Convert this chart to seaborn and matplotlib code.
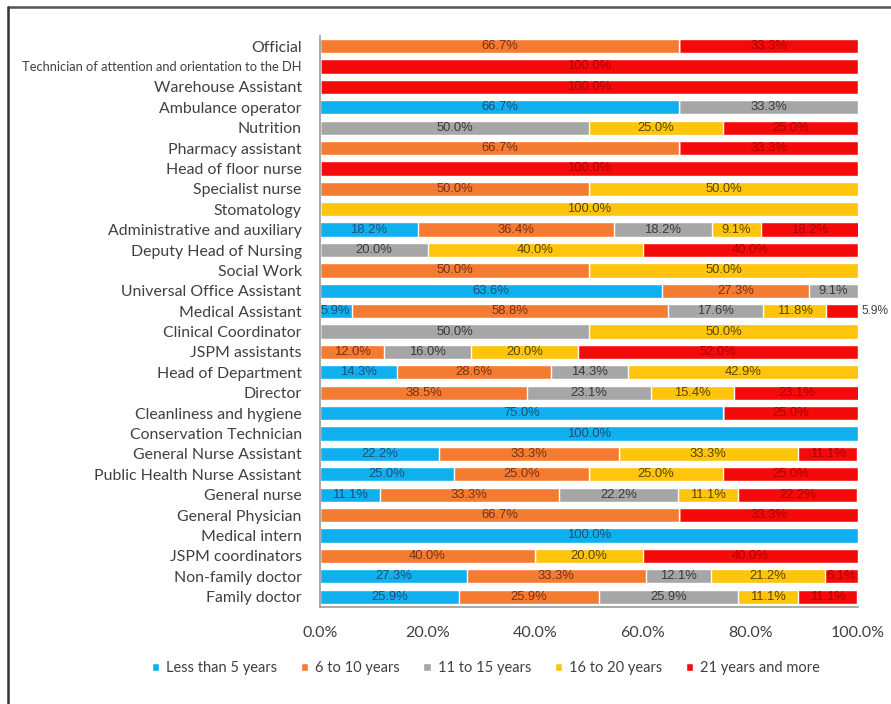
import matplotlib.pyplot as plt
import seaborn as sns
import pandas as pd
import numpy as np
from matplotlib.lines import Line2D

# Job categories, top to bottom as drawn
categories = [
    'Official', 'Technician of attention and orientation to the DH', 'Warehouse Assistant',
    'Ambulance operator', 'Nutrition', 'Pharmacy assistant', 'Head of floor nurse',
    'Specialist nurse', 'Stomatology', 'Administrative and auxiliary',
    'Deputy Head of Nursing', 'Social Work', 'Universal Office Assistant',
    'Medical Assistant', 'Clinical Coordinator', 'JSPM assistants', 'Head of Department',
    'Director', 'Cleanliness and hygiene', 'Conservation Technician',
    'General Nurse Assistant', 'Public Health Nurse Assistant', 'General nurse',
    'General Physician', 'Medical intern', 'JSPM coordinators', 'Non-family doctor',
    'Family doctor',
]

# Share of staff (%) by years of service
less_5 = [0, 0, 0, 66.7, 0, 0, 0, 0, 0, 18.2, 0, 0, 63.6, 5.9, 0, 0, 14.3, 0, 75.0, 100.0,
          22.2, 25.0, 11.1, 0, 100.0, 0, 27.3, 25.9]
y6_10 = [66.7, 0, 0, 0, 0, 66.7, 0, 50.0, 0, 36.4, 0, 50.0, 27.3, 58.8, 0, 12.0, 28.6, 38.5,
         0, 0, 33.3, 25.0, 33.3, 66.7, 0, 40.0, 33.3, 25.9]
y11_15 = [0, 0, 0, 33.3, 50.0, 0, 0, 0, 0, 18.2, 20.0, 0, 9.1, 17.6, 50.0, 16.0, 14.3, 23.1,
          0, 0, 0, 0, 22.2, 0, 0, 0, 12.1, 25.9]
y16_20 = [0, 0, 0, 0, 25.0, 0, 0, 50.0, 100.0, 9.1, 40.0, 50.0, 0, 11.8, 50.0, 20.0, 42.9, 15.4,
          0, 0, 33.3, 25.0, 11.1, 0, 0, 20.0, 21.2, 11.1]
y21_more = [33.3, 100.0, 100.0, 0, 25.0, 33.3, 100.0, 0, 0, 18.2, 40.0, 0, 0, 5.9, 0, 52.0, 0,
            23.1, 25.0, 0, 11.1, 25.0, 22.2, 33.3, 0, 40.0, 6.1, 11.1]

series_names = ['Less than 5 years', '6 to 10 years', '11 to 15 years',
                '16 to 20 years', '21 years and more']
colors = ['#10B0EE', '#F47B32', '#A6A6A6', '#FFC40C', '#F50A0A']
text_colors = ['#1D4F7A', '#7A3210', '#3A3A3A', '#5A4600', '#B00000']

xticks = [0, 20, 40, 60, 80, 100]

df = pd.DataFrame({'category': categories, series_names[0]: less_5, series_names[1]: y6_10,
                   series_names[2]: y11_15, series_names[3]: y16_20, series_names[4]: y21_more})

sns.set_style('white')
plt.rcParams['font.family'] = ['Lato', 'DejaVu Sans']

fig = plt.figure(figsize=(8.91, 7.04), dpi=100)
ax = fig.add_axes([0.359, 0.138, 0.604, 0.811])

# stacked bars: draw cumulative totals from the longest down
cum = df[series_names].cumsum(axis=1)
for k in reversed(range(len(series_names))):
    sns.barplot(x=cum[series_names[k]], y=df['category'], orient='h', color=colors[k],
                saturation=1, width=0.7, ax=ax, label=series_names[k])

# value labels
for i, row in df.iterrows():
    left = 0
    for k, name in enumerate(series_names):
        v = row[name]
        if v > 0:
            if k == 4 and v < 6:
                ax.text(100.6, i, f'{v:.1f}%', ha='left', va='center', fontsize=8.6,
                        color='#404040', family='Liberation Sans')
            else:
                ax.text(left + v / 2, i, f'{v:.1f}%', ha='center', va='center',
                        fontsize=9.4, color=text_colors[k], family='Liberation Sans')
        left += v

ax.set_xlim(0, 100)
ax.set_xticks(xticks)
ax.set_xticklabels([f'{t:.1f}%' for t in xticks], fontsize=11.5, color='#404040')
ax.tick_params(axis='x', length=0, pad=14)
ax.tick_params(axis='y', length=0, pad=13)
ax.set_xlabel('')
ax.set_ylabel('')
for lbl in ax.get_yticklabels():
    lbl.set_color('#404040')
    lbl.set_fontsize(9.3 if len(lbl.get_text()) > 40 else 11.4)

for s in ['top', 'right']:
    ax.spines[s].set_visible(False)
for s in ['left', 'bottom']:
    ax.spines[s].set_color('#9A9A9A')
    ax.spines[s].set_linewidth(1.2)

# legend in series order
handles, labels = ax.get_legend_handles_labels()
order = [labels.index(n) for n in series_names]
ax.legend([handles[j] for j in order], [labels[j] for j in order], loc='center',
          bbox_to_anchor=(486 / 891, 1 - 668 / 704), bbox_transform=fig.transFigure,
          ncol=5, frameon=False, fontsize=10.5, handlelength=0.5, handleheight=0.5,
          handletextpad=0.5, columnspacing=1.6, labelcolor='#404040')

# outer frame (top and left edges)
fig.add_artist(Line2D([8 / 891, 1], [1 - 7 / 704, 1 - 7 / 704], color='#555555', lw=1.8,
                      transform=fig.transFigure))
fig.add_artist(Line2D([8 / 891, 8 / 891], [0, 1 - 7 / 704], color='#333333', lw=1.8,
                      transform=fig.transFigure))

plt.savefig('out.png', dpi=100)
